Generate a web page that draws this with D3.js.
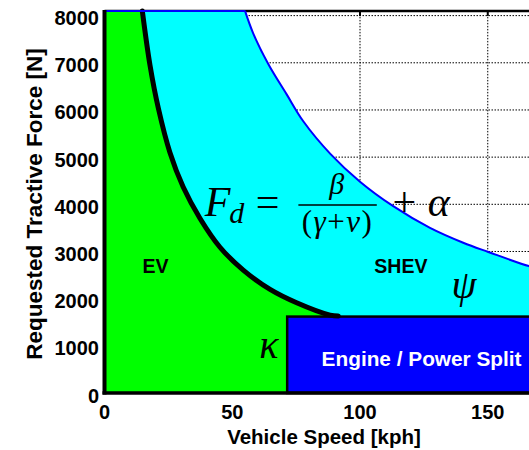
<!DOCTYPE html>
<html>
<head>
<meta charset="utf-8">
<script src="https://cdn.jsdelivr.net/npm/d3@7/dist/d3.min.js"></script>
<style>
  html, body { margin: 0; padding: 0; background: #fff; }
  svg { display: block; }
  .tick-label { font-family: 'Liberation Sans', Arial, sans-serif; font-weight: bold; font-size: 20px; fill: #000; }
  .math { font-family: 'Liberation Serif', 'Times New Roman', serif; fill: #000; }
</style>
</head>
<body>
<svg id="chart" width="529" height="450"></svg>
<script>
  'use strict';

  // axis limits and ticks
  var speedMax = 170,
    forceMax = 8100,
    speedTicks = [0, 50, 100, 150],
    forceTicks = [0, 1000, 2000, 3000, 4000, 5000, 6000, 7000, 8000];

  // EV boundary (thick black curve)
  var evSpeed = [14.8, 17.8, 21.1, 25.6, 30.8, 37.4, 45.2, 54.3, 64.8, 75.2, 88.3, 91.5],
    evForce = [8100, 6950, 6030, 5100, 4366, 3700, 3090, 2605, 2195, 1912, 1650, 1630];

  // SHEV boundary (blue curve)
  var shevSpeed = [55.0, 58.2, 64.1, 71.3, 77.8, 88.3, 100.0, 113.0, 127.4, 140.4, 150.2, 166.1, 170],
    shevForce = [8100, 7625, 6975, 6330, 5760, 5075, 4479, 3960, 3500, 3185, 2990, 2690, 2645];

  // engine / power split block
  var engineSpeedMin = 71.5,
    engineForceMax = 1620;

  var svg = d3.select('#chart'),
    x = d3.scaleLinear().domain([0, speedMax]).range([104.5, 104.5 + speedMax * 2.555]),
    y = d3.scaleLinear().domain([0, forceMax]).range([393, 10.9]);

  var evPts = evSpeed.map(function (v, i) { return [v, evForce[i]]; }),
    shevPts = shevSpeed.map(function (v, i) { return [v, shevForce[i]]; });

  var smooth = d3.curveCatmullRom.alpha(0.5);

  var line = d3.line()
    .x(function (d) { return x(d[0]); })
    .y(function (d) { return y(d[1]); })
    .curve(smooth);

  var area = d3.area()
    .x(function (d) { return x(d[0]); })
    .y0(y(0))
    .y1(function (d) { return y(d[1]); })
    .curve(smooth);

  // dotted grid
  var grid = svg.append('g')
    .attr('stroke', '#000')
    .attr('stroke-width', 1)
    .attr('stroke-dasharray', '1.5,1.5');

  grid.selectAll('line.gx').data(speedTicks.slice(1)).enter()
    .append('line')
    .attr('x1', function (d) { return x(d); })
    .attr('x2', function (d) { return x(d); })
    .attr('y1', y(forceMax))
    .attr('y2', y(0));

  grid.selectAll('line.gy').data(forceTicks.slice(1)).enter()
    .append('line')
    .attr('x1', x(0))
    .attr('x2', x(speedMax))
    .attr('y1', function (d) { return y(d); })
    .attr('y2', function (d) { return y(d); });

  // top border and inside ticks
  svg.append('line')
    .attr('x1', x(0)).attr('x2', x(speedMax))
    .attr('y1', y(forceMax)).attr('y2', y(forceMax))
    .attr('stroke', '#000').attr('stroke-width', 2.5);

  svg.selectAll('line.ttick').data(speedTicks).enter()
    .append('line')
    .attr('x1', function (d) { return x(d); })
    .attr('x2', function (d) { return x(d); })
    .attr('y1', y(forceMax))
    .attr('y2', y(forceMax) + 5)
    .attr('stroke', '#000').attr('stroke-width', 2);

  // SHEV region (cyan)
  svg.append('rect')
    .attr('x', x(0)).attr('y', y(forceMax))
    .attr('width', x(shevSpeed[0]) - x(0) + 1)
    .attr('height', y(0) - y(forceMax))
    .attr('fill', '#00ffff');

  svg.append('path')
    .attr('d', area(shevPts))
    .attr('fill', '#00ffff');

  // EV region (green)
  svg.append('rect')
    .attr('x', x(0)).attr('y', y(forceMax))
    .attr('width', x(evSpeed[0]) - x(0) + 1)
    .attr('height', y(0) - y(forceMax))
    .attr('fill', '#00ff00');

  svg.append('path')
    .attr('d', area(evPts))
    .attr('fill', '#00ff00');

  // engine block
  svg.append('rect')
    .attr('x', x(engineSpeedMin))
    .attr('y', y(engineForceMax))
    .attr('width', x(speedMax) - x(engineSpeedMin) + 10)
    .attr('height', y(0) - y(engineForceMax))
    .attr('fill', '#0000ff')
    .attr('stroke', '#000')
    .attr('stroke-width', 2.5);

  // boundaries
  svg.append('path')
    .attr('d', line(evPts))
    .attr('fill', 'none')
    .attr('stroke', '#000')
    .attr('stroke-width', 5)
    .attr('stroke-linecap', 'round');

  svg.append('line')
    .attr('x1', x(0)).attr('x2', x(shevSpeed[0]))
    .attr('y1', y(forceMax)).attr('y2', y(forceMax))
    .attr('stroke', '#0000ff').attr('stroke-width', 2);

  svg.append('path')
    .attr('d', line(shevPts))
    .attr('fill', 'none')
    .attr('stroke', '#0000ff')
    .attr('stroke-width', 2);

  // left and bottom axes
  svg.append('line')
    .attr('x1', x(0)).attr('x2', x(0))
    .attr('y1', y(forceMax) - 1).attr('y2', y(0) + 1.5)
    .attr('stroke', '#000').attr('stroke-width', 4);

  svg.append('line')
    .attr('x1', x(0) - 2).attr('x2', x(speedMax))
    .attr('y1', y(0)).attr('y2', y(0))
    .attr('stroke', '#000').attr('stroke-width', 3.5);

  // tick labels
  svg.selectAll('text.xt').data(speedTicks).enter()
    .append('text')
    .attr('class', 'tick-label')
    .attr('x', function (d) { return x(d); })
    .attr('y', 419)
    .attr('text-anchor', 'middle')
    .text(function (d) { return d; });

  svg.selectAll('text.yt').data(forceTicks).enter()
    .append('text')
    .attr('class', 'tick-label')
    .attr('x', 99)
    .attr('y', function (d) { return y(d) + 9.5; })
    .attr('text-anchor', 'end')
    .text(function (d) { return d; });

  // axis titles
  svg.append('text')
    .attr('class', 'tick-label')
    .style('font-size', '20.5px')
    .attr('x', 324).attr('y', 443.5)
    .attr('text-anchor', 'middle')
    .text('Vehicle Speed [kph]');

  svg.append('text')
    .attr('class', 'tick-label')
    .attr('transform', 'translate(42,204) rotate(-90)')
    .attr('text-anchor', 'middle')
    .style('font-size', '22.5px')
    .text('Requested Tractive Force [N]');

  // region labels
  svg.append('text')
    .attr('class', 'tick-label')
    .style('font-size', '19.5px')
    .attr('x', x(20)).attr('y', y(2544))
    .attr('text-anchor', 'middle')
    .text('EV');

  svg.append('text')
    .attr('class', 'tick-label')
    .style('font-size', '19.5px')
    .attr('x', x(116)).attr('y', y(2554))
    .attr('text-anchor', 'middle')
    .text('SHEV');

  svg.append('text')
    .attr('class', 'tick-label')
    .style('fill', '#fff')
    .style('font-size', '20.8px')
    .attr('x', x(124.1)).attr('y', y(572))
    .attr('text-anchor', 'middle')
    .text('Engine / Power Split');

  // greek symbols
  svg.append('text')
    .attr('class', 'math')
    .style('font-style', 'italic')
    .style('font-size', '40px')
    .attr('x', x(64.3)).attr('y', y(736))
    .attr('text-anchor', 'middle')
    .text('\u03ba');

  svg.append('text')
    .attr('class', 'math')
    .style('font-style', 'italic')
    .style('font-size', '40px')
    .attr('x', x(140.7)).attr('y', y(2014))
    .attr('text-anchor', 'middle')
    .text('\u03c8');

  // F_d = beta / (gamma + v) + alpha
  var fx = x(38.7),
    fy = y(3752),
    eq = svg.append('g').attr('class', 'math').attr('transform', 'translate(' + fx + ',' + fy + ')');

  function piece(dx, dy, size, italic, txt) {
    return eq.append('text')
      .attr('x', dx).attr('y', dy)
      .attr('text-anchor', 'middle')
      .style('font-size', size + 'px')
      .style('font-style', italic ? 'italic' : 'normal')
      .text(txt);
  }

  piece(14.2, 0, 42, true, 'F');
  piece(33.4, 7, 30, true, 'd');
  piece(64.2, 0, 42, false, '=');
  piece(133.4, -22, 30, true, '\u03b2');
  eq.append('line')
    .attr('x1', 95).attr('x2', 173.4)
    .attr('y1', -11).attr('y2', -11)
    .attr('stroke', '#000').attr('stroke-width', 1.6);

  var den = piece(134.2, 15.5, 31, false, '(')
    .style('letter-spacing', '1.5px');
  den.append('tspan').style('font-style', 'italic').text('\u03b3');
  den.append('tspan').text('+');
  den.append('tspan').style('font-style', 'italic').text('v');
  den.append('tspan').text(')');

  piece(200.9, 0, 42, false, '+');
  piece(235.5, 0, 42, true, '\u03b1');
</script>
</body>
</html>
